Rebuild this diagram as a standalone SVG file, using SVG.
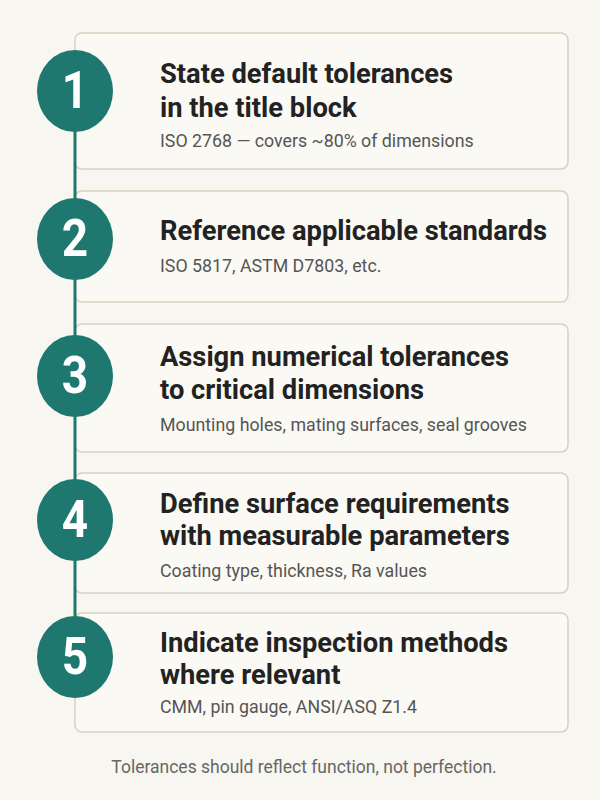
<svg xmlns="http://www.w3.org/2000/svg" width="600" height="800" viewBox="0 0 600 800">
<style>
.card{fill:#fbf9f4;stroke:#d8d1bf;stroke-width:1.5}
.dot{fill:#1e7870}
.num{font-family:Roboto,"Liberation Sans",sans-serif;font-weight:700;font-size:46px;fill:#ffffff;text-anchor:middle}
.title{font-family:Roboto,"Liberation Sans",sans-serif;font-weight:700;font-size:27.3px;fill:#222222}
.sub{font-family:Roboto,"Liberation Sans",sans-serif;font-size:17.8px;fill:#555555}
.foot{font-family:Roboto,"Liberation Sans",sans-serif;font-size:17.5px;fill:#666666;text-anchor:middle}
</style>
<rect width="600" height="800" fill="#f8f6f0"/>
<g id="cards">
<rect class="card" x="75" y="33" width="493" height="136" rx="7"/>
<rect class="card" x="75" y="191" width="493" height="111" rx="7"/>
<rect class="card" x="75" y="324" width="493" height="128" rx="7"/>
<rect class="card" x="75" y="473" width="493" height="120" rx="7"/>
<rect class="card" x="75" y="613" width="493" height="119" rx="7"/>
</g>
<g id="connectors">
<line x1="75" y1="91" x2="75" y2="657" stroke="#1e7870" stroke-width="3"/>
</g>
<g id="step1">
<ellipse class="dot" cx="75" cy="91" rx="38" ry="41"/>
<text class="num" transform="translate(75,108) scale(1,1.12)">1</text>
<text class="title" x="160" y="83">State default tolerances</text>
<text class="title" x="160" y="117">in the title block</text>
<text class="sub" x="160" y="147">ISO 2768 — covers ~80% of dimensions</text>
</g>
<g id="step2">
<ellipse class="dot" cx="75" cy="239" rx="38" ry="41"/>
<text class="num" transform="translate(75,256) scale(1,1.12)">2</text>
<text class="title" x="160" y="240">Reference applicable standards</text>
<text class="sub" x="160" y="272">ISO 5817, ASTM D7803, etc.</text>
</g>
<g id="step3">
<ellipse class="dot" cx="75" cy="376" rx="38" ry="41"/>
<text class="num" transform="translate(75,393) scale(1,1.12)">3</text>
<text class="title" x="160" y="366">Assign numerical tolerances</text>
<text class="title" x="160" y="399">to critical dimensions</text>
<text class="sub" x="160" y="431">Mounting holes, mating surfaces, seal grooves</text>
</g>
<g id="step4">
<ellipse class="dot" cx="75" cy="520" rx="38" ry="41"/>
<text class="num" transform="translate(75,537) scale(1,1.12)">4</text>
<text class="title" x="160" y="513">Define surface requirements</text>
<text class="title" x="160" y="545">with measurable parameters</text>
<text class="sub" x="160" y="577">Coating type, thickness, Ra values</text>
</g>
<g id="step5">
<ellipse class="dot" cx="75" cy="657" rx="38" ry="41"/>
<text class="num" transform="translate(75,674) scale(1,1.12)">5</text>
<text class="title" x="160" y="652">Indicate inspection methods</text>
<text class="title" x="160" y="684">where relevant</text>
<text class="sub" x="160" y="713">CMM, pin gauge, ANSI/ASQ Z1.4</text>
</g>
<text class="foot" x="304" y="773">Tolerances should reflect function, not perfection.</text>
</svg>
